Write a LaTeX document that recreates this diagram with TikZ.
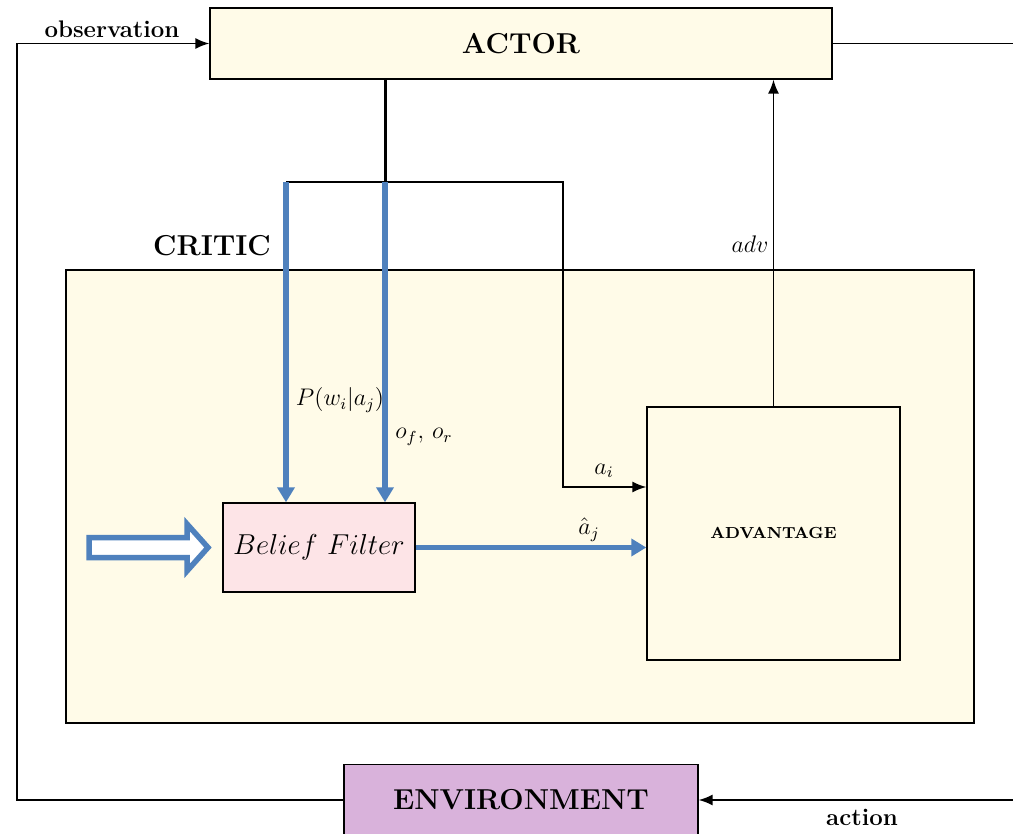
\documentclass[tikz,border=0pt]{standalone}
\usepackage{xcolor}
\usepackage{amsmath}
\usepackage{tikz}
\usetikzlibrary{arrows.meta}

\definecolor{boxyellow}{RGB}{255,251,232}
\definecolor{filterpink}{RGB}{253,228,231}
\definecolor{envpurple}{RGB}{217,178,219}
\definecolor{flowblue}{RGB}{79,129,189}

\begin{document}
\begin{tikzpicture}[x=0.5pt, y=-0.5pt,
  block/.style={draw, line width=0.7pt, inner sep=0pt},
  sig/.style={line width=0.75pt, -{Latex[length=7pt,width=5.5pt]}},
  flow/.style={flowblue, line width=2.6pt, -{Triangle[length=7.5pt,width=8.5pt]}},
  lbl/.style={font=\large}]

  % Frame of the page, the environment box runs off the bottom edge
  \useasboundingbox (0,0) rectangle (1013,834);
  \clip (0,0) rectangle (1013,834);

  % Critic region drawn first so the wires lie on top
  \node[block, fill=boxyellow, minimum width=454pt, minimum height=226.5pt] (critic) at (520,496.5) {};
  \node[font=\Large\bfseries] (criticlbl) at (212,246) {CRITIC};

  % Main blocks
  \node[block, fill=boxyellow, minimum width=311pt, minimum height=35.5pt, font=\Large\bfseries] (actor) at (521,43.5) {ACTOR};
  \node[block, fill=envpurple, minimum width=177pt, minimum height=35.5pt, font=\Large\bfseries] (env) at (521,800) {ENVIRONMENT};
  \node[block, fill=boxyellow, minimum size=126.5pt, font=\footnotesize\bfseries] (adv) at (773.5,533.5) {ADVANTAGE};
  \node[block, fill=filterpink, minimum width=96pt, minimum height=44.5pt, font=\Large] (filter) at (319,547.5) {$Belief\ Filter$};

  % Branch points of the actor output
  \coordinate (split) at (385,182);
  \coordinate (left) at (286,182);
  \coordinate (corner) at (563,182);
  \coordinate (ai) at (563,487);
  \coordinate (outL) at (17,0);
  \coordinate (outR) at (1040,0);

  % Outer loop: observation and action
  \draw[sig] (env.west) -- (env.west -| outL) -- (actor.west -| outL) -- (actor.west);
  \draw[sig] (actor.east) -- (actor.east -| outR) -- (env.east -| outR) -- (env.east);
  \node[font=\large\bfseries] (obslbl) at (112,29) {observation};
  \node[font=\large\bfseries] (actlbl) at (862,817) {action};

  % Actor output fanned out to the critic
  \draw[line width=1.5pt] (actor.south -| split) -- (split);
  \draw[sig] (left) -- (corner) -- (ai) -- (ai -| adv.west);
  \node[lbl] (ailbl) at (604,471) {$a_i$};

  % Blue inputs of the belief filter
  \draw[flow] (left) -- (left |- filter.north);
  \draw[flow] (split) -- (split |- filter.north);
  \draw[flow] (filter.east) -- (filter.east -| adv.west);
  \node[lbl] (plbl) at (340,400) {$P(w_i|a_j)$};
  \node[lbl] (olbl) at (424,437) {$o_f,\, o_r$};
  \node[lbl] (ajlbl) at (589,530) {$\hat{a}_j$};

  % Hollow block arrow into the filter
  \draw[flowblue, fill=white, line width=2.75pt] (89,537.5) -- (187,537.5) -- (187,524) -- (208,547.5)
    -- (187,571) -- (187,557.5) -- (89,557.5) -- cycle;

  % Advantage back to the actor
  \draw[sig] (adv.north) -- (adv.north |- actor.south);
  \node[lbl] (advlbl) at (750,244) {$adv$};
\end{tikzpicture}
\end{document}
